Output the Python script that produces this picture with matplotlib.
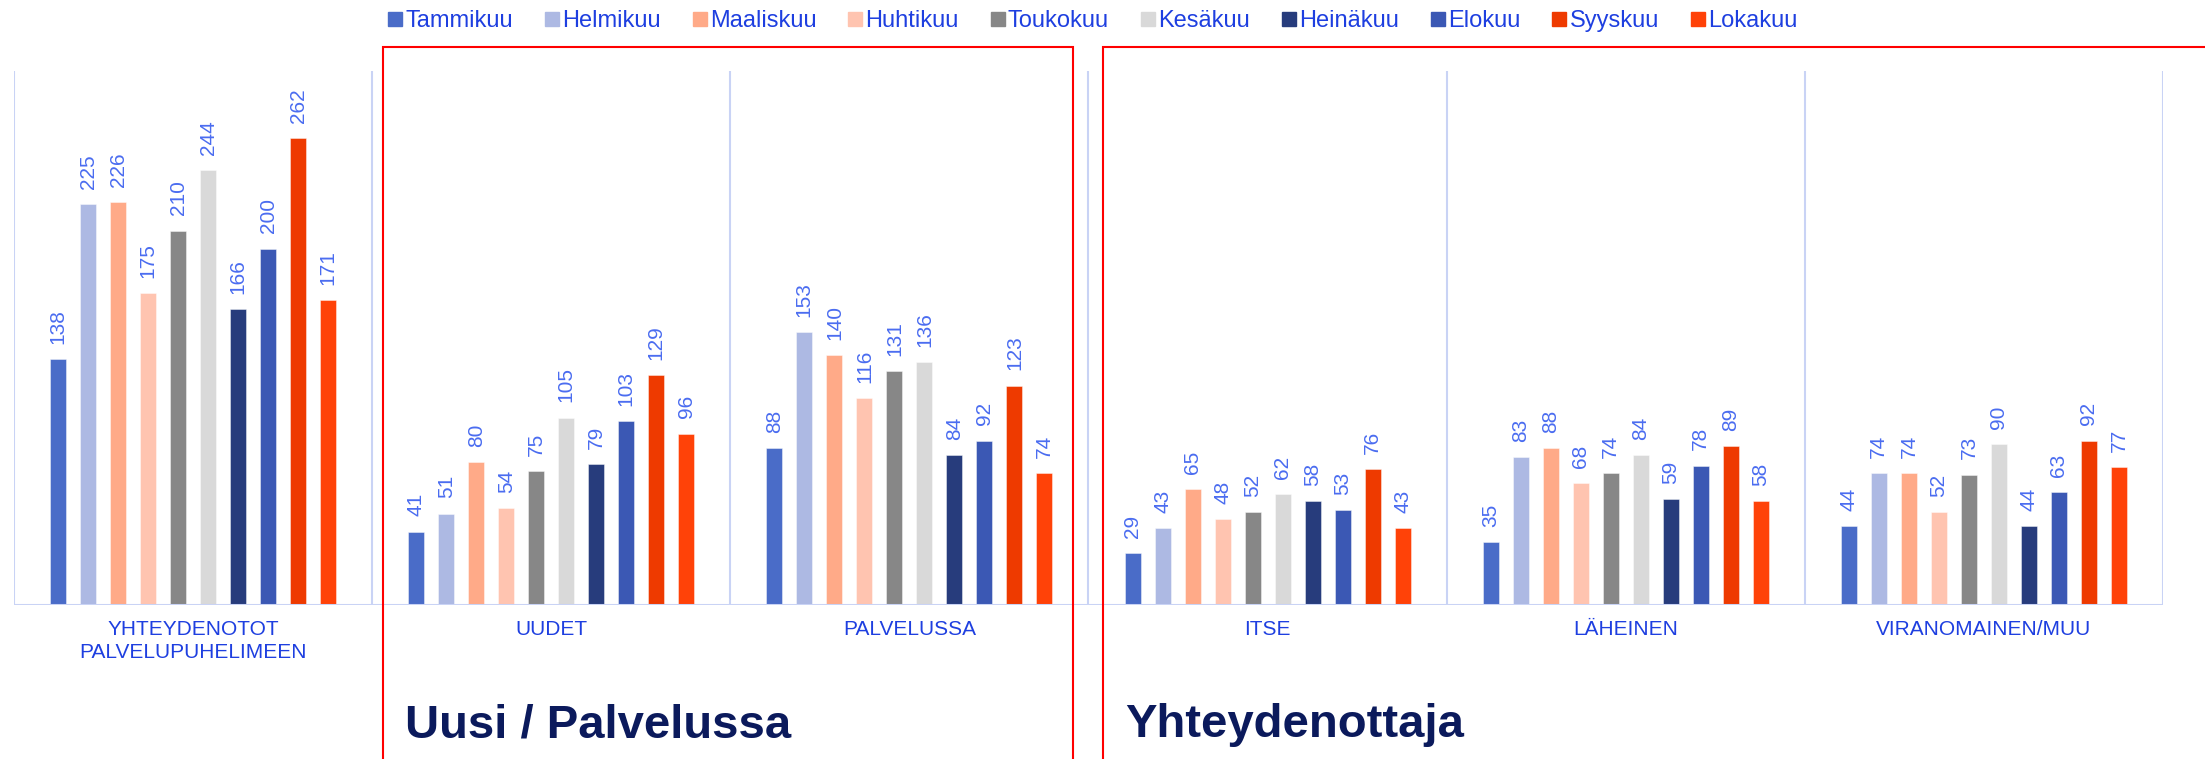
import matplotlib
matplotlib.use("Agg")
import matplotlib.pyplot as plt
from matplotlib.lines import Line2D
from matplotlib.patches import Rectangle
import numpy as np

plt.rcParams['font.family'] = ['Liberation Sans', 'DejaVu Sans']

months = ["Tammikuu", "Helmikuu", "Maaliskuu", "Huhtikuu", "Toukokuu",
          "Kesäkuu", "Heinäkuu", "Elokuu", "Syyskuu", "Lokakuu"]
colors = ["#4a6cc8", "#adb9e3", "#ffaa88", "#ffc4b0", "#878787",
          "#d9d9d9", "#273c7c", "#3b58b4", "#ee3a00", "#ff4208"]
categories = ["YHTEYDENOTOT\nPALVELUPUHELIMEEN", "UUDET", "PALVELUSSA",
              "ITSE", "LÄHEINEN", "VIRANOMAINEN/MUU"]

yhteydenotot = [138, 225, 226, 175, 210, 244, 166, 200, 262, 171]
uudet = [41, 51, 80, 54, 75, 105, 79, 103, 129, 96]
palvelussa = [88, 153, 140, 116, 131, 136, 84, 92, 123, 74]
itse = [29, 43, 65, 48, 52, 62, 58, 53, 76, 43]
laheinen = [35, 83, 88, 68, 74, 84, 59, 78, 89, 58]
viranomainen = [44, 74, 74, 52, 73, 90, 44, 63, 92, 77]

group_titles = ["Uusi / Palvelussa", "Yhteydenottaja"]

data = np.array([yhteydenotot, uudet, palvelussa, itse, laheinen, viranomainen])

W, H = 2205, 759
fig = plt.figure(figsize=(W / 100, H / 100), dpi=100)
ax = fig.add_axes([14 / W, 1 - 604.5 / H, (2163 - 14) / W, (604.5 - 70.6) / H])

ncat = len(categories)
x = np.arange(ncat)
slot = 30 / 358
bw = 16 / 358
label_color = "#4a6cf0"
text_color = "#1e3fe0"
axis_color = "#c9d3f5"

for i, (m, c) in enumerate(zip(months, colors)):
    xs = x + (i - 4.5) * slot
    vals = data[:, i]
    ax.bar(xs, vals, bw, color=c, linewidth=0.6, edgecolor="#ffffff80", zorder=2)
    for xx, v in zip(xs, vals):
        ax.annotate(str(v), xy=(xx, v), xytext=(0, 11), textcoords="offset points",
                    rotation=90, ha="center", va="bottom", fontsize=15,
                    color=label_color)

ax.set_xlim(-0.5, ncat - 0.5)
ax.set_ylim(0, 300)
ax.axis("off")
for b in np.arange(-0.5, ncat, 1.0):
    ax.axvline(b, 0, 1, color=axis_color, lw=1.5, zorder=1)
ax.axhline(0, color=axis_color, lw=2.2, zorder=3)

for i, cat in enumerate(categories):
    ax.annotate(cat, xy=(i, 0), xycoords=("data", "axes fraction"),
                xytext=(0, -11), textcoords="offset points",
                ha="center", va="top", fontsize=15, color=text_color,
                linespacing=1.3)

# legend
handles = [Line2D([], [], marker="s", linestyle="none", markersize=9.4,
                  markerfacecolor=c, markeredgecolor=c) for c in colors]
leg = fig.legend(handles, months, loc="center", ncol=10,
                 bbox_to_anchor=(1093 / W, 1 - 21 / H), frameon=False,
                 fontsize=17, handlelength=0.55, handletextpad=0.15,
                 columnspacing=1.38, borderpad=0, borderaxespad=0)
for t in leg.get_texts():
    t.set_color(text_color)

# red group boxes
fig.add_artist(Rectangle((383 / W, -0.2), (1073 - 383) / W, 1.2 - 47 / H,
                         transform=fig.transFigure, fill=False,
                         edgecolor="#ff0000", lw=1.5, zorder=5))
fig.add_artist(Rectangle((1103 / W, -0.2), (2400 - 1103) / W, 1.2 - 47 / H,
                         transform=fig.transFigure, fill=False,
                         edgecolor="#ff0000", lw=1.5, zorder=5))

fig.text(405 / W, 1 - 737 / H, group_titles[0], fontsize=34, fontweight="bold",
         color="#0b1a5c", va="baseline", ha="left")
fig.text(1125 / W, 1 - 737 / H, group_titles[1], fontsize=34, fontweight="bold",
         color="#0b1a5c", va="baseline", ha="left")

fig.savefig("out.png", dpi=100)
